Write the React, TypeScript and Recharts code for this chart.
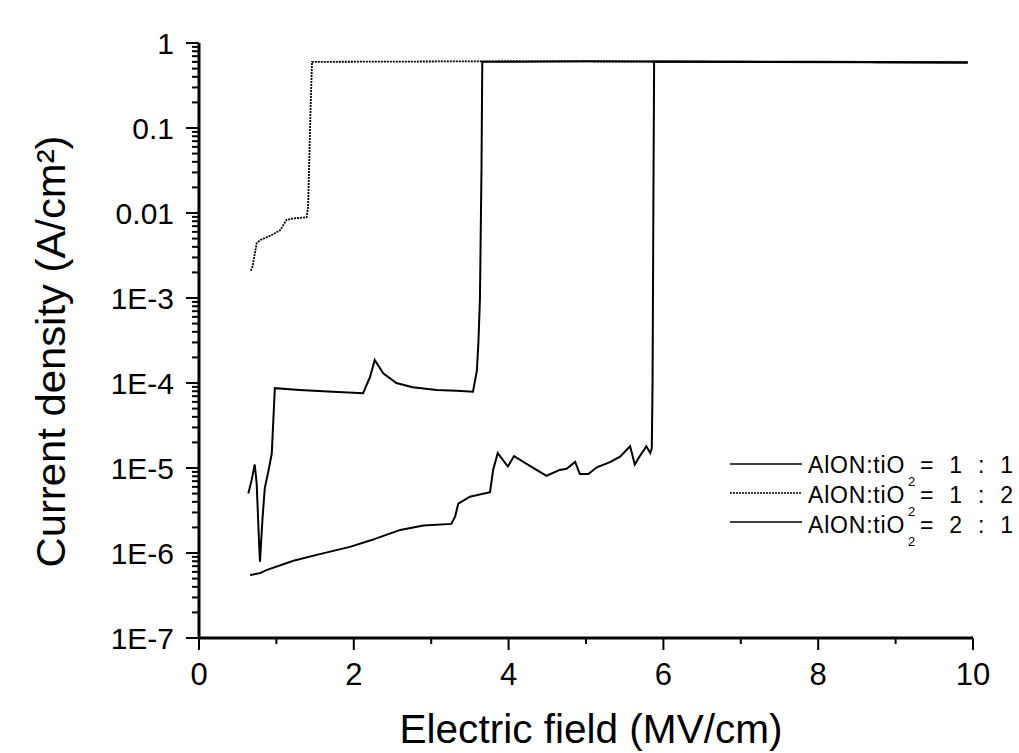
import React from 'react';
import { LineChart, Line, XAxis, YAxis, Legend } from 'recharts';

const FONT = '"Liberation Sans", Arial, Helvetica, sans-serif';

// ---- axis ticks ----
const xMajorTicks = [0, 2, 4, 6, 8, 10];
const xMinorTicks = [1, 3, 5, 7, 9];
const yMajorTicks = [1e-7, 1e-6, 1e-5, 1e-4, 1e-3, 0.01, 0.1, 1];
const yTickLabels = ['1E-7', '1E-6', '1E-5', '1E-4', '1E-3', '0.01', '0.1', '1'];
const yMinorMultipliers = [2, 3, 4, 5, 6, 7, 8, 9];
const yMinorTicks = yMajorTicks.slice(0, -1).flatMap((d) => yMinorMultipliers.map((m) => m * d));

// ---- series names ----
const seriesNames = ['AlON:tiO₂ = 1 : 1', 'AlON:tiO₂ = 1 : 2', 'AlON:tiO₂ = 2 : 1'];

// ---- AlON:tiO2 = 1 : 1 ----
const field11 = [0.637, 0.68, 0.72, 0.745, 0.775, 0.788, 0.82, 0.85, 0.9, 0.94, 0.965, 0.98, 1.3, 1.73, 2.12, 2.21, 2.27, 2.38, 2.55, 2.76, 3.07, 3.33, 3.54, 3.59, 3.61, 3.63, 3.65, 3.66, 5.0, 7.0, 9.93];
const current11 = [5.0e-6, 7.2e-6, 1.1e-5, 6.6e-6, 1.4e-6, 7.9e-7, 2.5e-6, 5.8e-6, 9.5e-6, 1.48e-5, 4.5e-5, 8.7e-5, 8.3e-5, 7.9e-5, 7.6e-5, 1.18e-4, 1.87e-4, 1.3e-4, 1.0e-4, 8.9e-5, 8.3e-5, 8.1e-5, 7.9e-5, 1.4e-4, 3.0e-4, 1.0e-3, 0.035, 0.6, 0.61, 0.6, 0.59];

// ---- AlON:tiO2 = 1 : 2 ----
const field12 = [0.668, 0.69, 0.745, 0.79, 0.94, 1.05, 1.13, 1.21, 1.39, 1.41, 1.44, 1.46, 4.0, 9.93];
const current12 = [2.1e-3, 2.3e-3, 4.4e-3, 4.8e-3, 5.5e-3, 6.3e-3, 8.3e-3, 8.6e-3, 8.9e-3, 0.012, 0.15, 0.6, 0.61, 0.59];

// ---- AlON:tiO2 = 2 : 1 ----
const field21 = [0.66, 0.79, 0.87, 1.22, 1.52, 1.95, 2.21, 2.6, 2.9, 3.26, 3.31, 3.35, 3.5, 3.76, 3.8, 3.86, 3.99, 4.07, 4.28, 4.49, 4.66, 4.75, 4.86, 4.92, 5.03, 5.14, 5.31, 5.44, 5.57, 5.63, 5.7, 5.78, 5.83, 5.85, 5.86, 5.87, 5.88, 8.0, 9.93];
const current21 = [5.5e-7, 5.8e-7, 6.3e-7, 8.1e-7, 9.5e-7, 1.18e-6, 1.4e-6, 1.87e-6, 2.1e-6, 2.2e-6, 2.7e-6, 3.8e-6, 4.6e-6, 5.2e-6, 9.5e-6, 1.5e-5, 1.04e-5, 1.38e-5, 1.05e-5, 8.1e-6, 9.5e-6, 9.8e-6, 1.18e-5, 8.5e-6, 8.5e-6, 1.02e-5, 1.17e-5, 1.36e-5, 1.8e-5, 1.1e-5, 1.4e-5, 1.8e-5, 1.5e-5, 1.7e-5, 1e-4, 0.01, 0.6, 0.6, 0.59];

const toData = (xs: number[], ys: number[]) => xs.map((x, i) => ({ x, y: ys[i] }));
const data11 = toData(field11, current11);
const data12 = toData(field12, current12);
const data21 = toData(field21, current21);

const dashFor: Record<string, string | undefined> = {
  [seriesNames[0]]: undefined,
  [seriesNames[1]]: '2 1',
  [seriesNames[2]]: undefined,
};

const majorIndex = (v: number) =>
  yMajorTicks.findIndex((t) => Math.abs(Math.log10(t) - Math.log10(v)) < 1e-6);

const renderYTick = (props: any) => {
  const { x, y, payload } = props;
  const idx = majorIndex(payload.value);
  const major = idx >= 0;
  const len = major ? 13 : 7;
  return (
    <g>
      <line x1={x} x2={x - len} y1={y} y2={y} stroke="#000" strokeWidth={2} />
      {major && (
        <text x={x - 25} y={y + 11} textAnchor="end" fontSize={30} fontFamily={FONT} fill="#000">
          {yTickLabels[idx]}
        </text>
      )}
    </g>
  );
};

const renderXTick = (props: any) => {
  const { x, y, payload } = props;
  const major = xMajorTicks.includes(payload.value);
  return (
    <g>
      <line x1={x} x2={x} y1={y} y2={y + (major ? 12 : 6)} stroke="#000" strokeWidth={2} />
      {major && (
        <text x={x} y={y + 47} textAnchor="middle" fontSize={31} fontFamily={FONT} fill="#000">
          {payload.value}
        </text>
      )}
    </g>
  );
};

const XTitle = (props: any) => {
  const vb = props.viewBox || { x: 199, y: 638, width: 774, height: 80 };
  const cx = vb.x + vb.width / 2 + 5;
  const cy = vb.y + 105;
  return (
    <text x={cx} y={cy} textAnchor="middle" fontSize={40} fontFamily={FONT} fill="#000" textLength={383} lengthAdjust="spacingAndGlyphs">
      Electric field (MV/cm)
    </text>
  );
};

const YTitle = (props: any) => {
  const vb = props.viewBox || { x: 0, y: 43, width: 199, height: 595 };
  const bx = vb.x + 65;
  const cy = vb.y + vb.height / 2 + 11;
  return (
    <text
      x={bx}
      y={cy}
      transform={`rotate(-90, ${bx}, ${cy})`}
      textAnchor="middle"
      fontSize={40}
      fontFamily={FONT}
      fill="#000"
      textLength={432}
      lengthAdjust="spacingAndGlyphs"
    >
      Current density (A/cm²)
    </text>
  );
};

const renderLegend = (props: any) => {
  const payload = props.payload || [];
  const lineY = [24, 53, 82];
  const textY = [33, 63, 93];
  return (
    <svg width={299} height={110} style={{ display: 'block', overflow: 'visible' }}>
      {payload.map((entry: any, i: number) => {
        const name: string = String(entry.value);
        const [prefix, rest] = name.split('₂');
        const dash = dashFor[name];
        return (
          <g key={name}>
            <line x1={10} x2={82} y1={lineY[i]} y2={lineY[i]} stroke="#000" strokeWidth={1.6} strokeDasharray={dash} />
            <text x={88} y={textY[i]} fontSize={23} fontFamily={FONT} fill="#000" letterSpacing={0.8}>
              {prefix}
            </text>
            <text x={188} y={textY[i] + 13} fontSize={13} fontFamily={FONT} fill="#000">
              2
            </text>
            <text x={200} y={textY[i]} fontSize={23} fontFamily={FONT} fill="#000" wordSpacing={9.5} style={{ whiteSpace: 'pre' }}>
              {rest.trim()}
            </text>
          </g>
        );
      })}
    </svg>
  );
};

export default function App() {
  return (
    <div style={{ position: 'absolute', left: 0, top: 0, width: 1019, height: 753, background: '#fff' }}>
      <LineChart width={1019} height={753} margin={{ top: 43, right: 46, bottom: 35, left: 0 }}>
        <XAxis
          type="number"
          dataKey="x"
          domain={[0, 10]}
          ticks={[...xMajorTicks, ...xMinorTicks].sort((a, b) => a - b)}
          interval={0}
          tickSize={0}
          tickMargin={0}
          tickLine={false}
          tick={renderXTick}
          axisLine={{ stroke: '#000', strokeWidth: 3 }}
          height={80}
          allowDataOverflow
          label={<XTitle />}
        />
        <YAxis
          type="number"
          dataKey="y"
          scale="log"
          domain={[1e-7, 1]}
          ticks={[...yMajorTicks, ...yMinorTicks].sort((a, b) => a - b)}
          interval={0}
          tickSize={0}
          tickMargin={0}
          tickLine={false}
          tick={renderYTick}
          axisLine={{ stroke: '#000', strokeWidth: 3 }}
          width={199}
          allowDataOverflow
          label={<YTitle />}
        />
        <Legend
          layout="horizontal"
          verticalAlign="middle"
          align="center"
          wrapperStyle={{ position: 'absolute', left: 720, top: 440, width: 299, height: 110 }}
          content={renderLegend}
        />
        <Line data={data11} dataKey="y" name={seriesNames[0]} type="linear" stroke="#000" strokeWidth={2} dot={false} isAnimationActive={false} />
        <Line data={data12} dataKey="y" name={seriesNames[1]} type="linear" stroke="#000" strokeWidth={1.8} strokeDasharray="2 1" dot={false} isAnimationActive={false} />
        <Line data={data21} dataKey="y" name={seriesNames[2]} type="linear" stroke="#000" strokeWidth={2} dot={false} isAnimationActive={false} />
      </LineChart>
    </div>
  );
}
